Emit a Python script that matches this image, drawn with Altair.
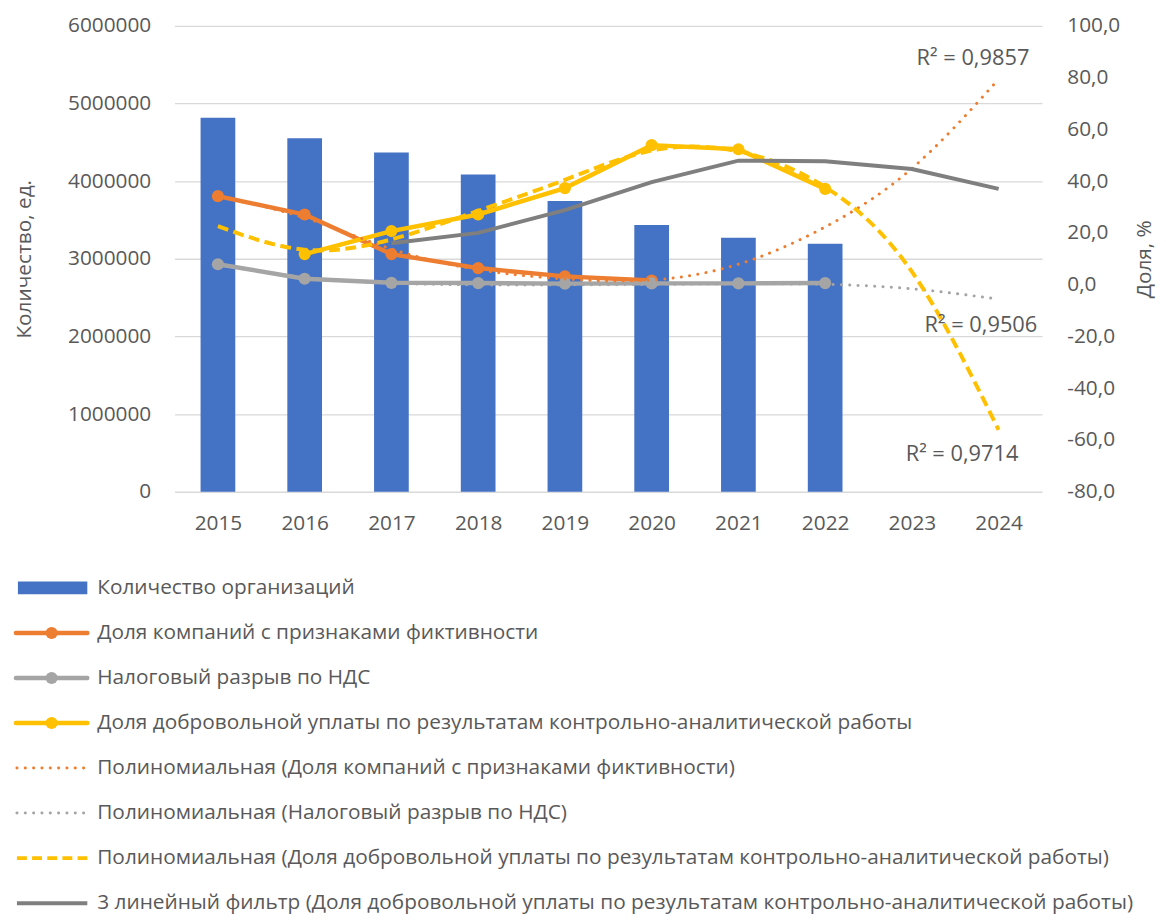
import altair as alt
import pandas as pd

# ---------------- data ----------------
S1 = "Количество организаций"
S2 = "Доля компаний с признаками фиктивности"
S3 = "Налоговый разрыв по НДС"
S4 = "Доля добровольной уплаты по результатам контрольно-аналитической работы"
T2 = "Полиномиальная (Доля компаний с признаками фиктивности)"
T3 = "Полиномиальная (Налоговый разрыв по НДС)"
T4 = "Полиномиальная (Доля добровольной уплаты по результатам контрольно-аналитической работы)"
MA = "3 линейный фильтр (Доля добровольной уплаты по результатам контрольно-аналитической работы)"

years = [2015, 2016, 2017, 2018, 2019, 2020, 2021, 2022, 2023, 2024]

org_years = [2015, 2016, 2017, 2018, 2019, 2020, 2021, 2022]
org_count = [4817000, 4552000, 4370000, 4085000, 3744000, 3434000, 3272000, 3192000]

fict_years = [2015, 2016, 2017, 2018, 2019, 2020]
fict_share = [34.2, 27.1, 11.8, 6.4, 3.2, 1.6]

gap_years = [2015, 2016, 2017, 2018, 2019, 2020, 2021, 2022]
vat_gap = [7.9, 2.3, 0.7, 0.6, 0.4, 0.5, 0.5, 0.6]

vol_years = [2016, 2017, 2018, 2019, 2020, 2021, 2022]
vol_share = [11.8, 20.7, 27.1, 37.3, 53.9, 52.3, 37.0]

ma_years = [2017, 2018, 2019, 2020, 2021, 2022, 2023, 2024]
ma_values = [16.0, 20.0, 28.8, 39.6, 47.9, 47.7, 44.7, 37.0]

trend_fict = [34.0, 25.8, 13.8, 5.8, 2.2, 1.8, 7.9, 22.3, 44.9, 79.4]
trend_gap = [7.6, 2.9, 0.6, -0.1, -0.1, 0.1, 0.3, 0.1, -1.6, -5.6]
trend_vol = [22.6, 13.5, 17.5, 28.5, 40.5, 51.8, 51.5, 37.7, 5.0, -56.1]

r2_texts = ["R² = 0,9857", "R² = 0,9506", "R² = 0,9714"]

left_ticks = [0, 1000000, 2000000, 3000000, 4000000, 5000000, 6000000]
right_ticks = [-80, -60, -40, -20, 0, 20, 40, 60, 80, 100]

legend_labels = [S1, S2, S3, S4, T2, T3, T4, MA]

# ---------------- styles ----------------
FONT = "Open Sans"
TXT = "#595959"
FS = 21
BLUE = "#4472C4"
ORANGE = "#ED7D31"
GRAY = "#A5A5A5"
YELLOW = "#FFC000"
DARK = "#7F7F7F"

# ---------------- tables ----------------
bars_df = pd.DataFrame({"year": org_years, "count": org_count})
main_df = pd.concat([
    pd.DataFrame({"year": fict_years, "value": fict_share, "series": S2}),
    pd.DataFrame({"year": gap_years, "value": vat_gap, "series": S3}),
    pd.DataFrame({"year": vol_years, "value": vol_share, "series": S4}),
], ignore_index=True)
tf_df = pd.DataFrame({"year": years, "value": trend_fict})
tg_df = pd.DataFrame({"year": years, "value": trend_gap})
tv_df = pd.DataFrame({"year": years, "value": trend_vol})
ma_df = pd.DataFrame({"year": ma_years, "value": ma_values})

x_axis = alt.Axis(values=years, format="d", title=None, grid=False, domain=False,
                  ticks=False, tickSize=0, labelPadding=21, labelFontSize=FS,
                  labelColor=TXT, labelFont=FONT)
X = alt.X("year:Q",
          scale=alt.Scale(domain=[2014.5, 2024.5], nice=False, zero=False, padding=0),
          axis=x_axis)

left_axis = alt.Axis(values=left_ticks, format="d", title="Количество, ед.",
                     grid=True, gridColor="#D9D9D9", gridWidth=1.3, domain=False,
                     ticks=False, tickSize=0, labelPadding=24, labelFontSize=FS,
                     labelColor=TXT, labelFont=FONT, titleFontSize=FS,
                     titleFont=FONT, titleColor=TXT, titleFontWeight="normal",
                     titlePadding=33)
right_axis = alt.Axis(orient="right", values=right_ticks,
                      labelExpr="replace(replace(format(datum.value, '.1f'), '.', ','), '\u2212', '-')",
                      title="Доля, %", grid=False, domain=False, ticks=False,
                      tickSize=0, labelPadding=25, labelFontSize=FS,
                      labelColor=TXT, labelFont=FONT, titleFontSize=FS,
                      titleFont=FONT, titleColor=TXT, titleFontWeight="normal",
                      titleAngle=270, titlePadding=35)
YR = alt.Y("value:Q", scale=alt.Scale(domain=[-80, 100], nice=False, zero=False),
           axis=right_axis)

bars = alt.Chart(bars_df).mark_bar(size=35, color=BLUE).encode(
    x=X,
    y=alt.Y("count:Q", scale=alt.Scale(domain=[0, 6000000], nice=False), axis=left_axis),
)

main = alt.Chart(main_df).mark_line(
    strokeWidth=4.5,
    point=alt.OverlayMarkDef(filled=True, size=150, opacity=1),
).encode(
    x=X, y=YR,
    color=alt.Color("series:N", scale=alt.Scale(domain=[S2, S3, S4],
                                                range=[ORANGE, GRAY, YELLOW]),
                    legend=None),
)

dot = [0.1, 8.3]
t_f = alt.Chart(tf_df).mark_line(color=ORANGE, strokeWidth=3, strokeDash=dot,
                                 strokeCap="round", interpolate="natural").encode(x=X, y=YR)
t_g = alt.Chart(tg_df).mark_line(color=GRAY, strokeWidth=3, strokeDash=dot,
                                 strokeCap="round", interpolate="natural").encode(x=X, y=YR)
t_v = alt.Chart(tv_df).mark_line(color=YELLOW, strokeWidth=4, strokeDash=[11, 5.5],
                                 interpolate="natural").encode(x=X, y=YR)
ma = alt.Chart(ma_df).mark_line(color=DARK, strokeWidth=4).encode(x=X, y=YR)

last = lambda df, txt: df.tail(1).assign(txt=txt)
r2a = alt.Chart(last(tf_df, r2_texts[0])).mark_text(
    align="right", baseline="middle", dx=31, dy=-21, fontSize=22, font=FONT, color=TXT
).encode(x=X, y=YR, text="txt:N")
r2b = alt.Chart(last(tg_df, r2_texts[1])).mark_text(
    align="right", baseline="middle", dx=39, dy=26, fontSize=22, font=FONT, color=TXT
).encode(x=X, y=YR, text="txt:N")
r2c = alt.Chart(last(tv_df, r2_texts[2])).mark_text(
    align="right", baseline="middle", dx=20, dy=24, fontSize=22, font=FONT, color=TXT
).encode(x=X, y=YR, text="txt:N")

top = alt.layer(
    bars,
    alt.layer(main, t_f, t_g, t_v, ma, r2a, r2b, r2c),
).resolve_scale(y="independent").properties(width=875, height=470)

# ---------------- legend ----------------
leg_df = pd.DataFrame({"label": legend_labels})
YL = alt.Y("label:N", sort=legend_labels, scale=alt.Scale(type="point", padding=0),
           axis=None)
L = -161  # legend symbols start left of the plot origin


def row(label):
    return alt.Chart(leg_df).transform_filter(
        alt.FieldEqualPredicate(field="label", equal=label))


leg_layers = [
    row(S1).mark_rule(strokeWidth=13, color=BLUE).encode(
        x=alt.value(L + 3), x2=alt.value(L + 73), y=YL),
]
for lab, col in [(S2, ORANGE), (S3, GRAY), (S4, YELLOW)]:
    leg_layers.append(row(lab).mark_rule(strokeWidth=4.5, color=col, strokeCap="round").encode(
        x=alt.value(L + 1), x2=alt.value(L + 73), y=YL))
    leg_layers.append(row(lab).mark_point(filled=True, size=150, opacity=1, color=col).encode(
        x=alt.value(L + 37), y=YL))
leg_layers.append(row(T2).mark_rule(strokeWidth=3, color=ORANGE, strokeDash=dot,
                                    strokeCap="round").encode(
    x=alt.value(L + 2), x2=alt.value(L + 72), y=YL))
leg_layers.append(row(T3).mark_rule(strokeWidth=3, color=GRAY, strokeDash=dot,
                                    strokeCap="round").encode(
    x=alt.value(L + 2), x2=alt.value(L + 72), y=YL))
leg_layers.append(row(T4).mark_rule(strokeWidth=4, color=YELLOW, strokeDash=[10, 5.3]).encode(
    x=alt.value(L + 2), x2=alt.value(L + 73), y=YL))
leg_layers.append(row(MA).mark_rule(strokeWidth=4, color=DARK).encode(
    x=alt.value(L + 2), x2=alt.value(L + 73), y=YL))
leg_layers.append(alt.Chart(leg_df).mark_text(
    align="left", baseline="middle", fontSize=FS, font=FONT, color=TXT
).encode(x=alt.value(L + 83), y=YL, text="label:N"))

legend = alt.layer(*leg_layers).properties(width=800, height=318)

chart = alt.vconcat(top, legend, spacing=44).properties(
    padding={"left": 3, "top": 3, "right": 3, "bottom": 0},
    background="white",
).configure_view(stroke=None)

chart.save("out.html", embed_options={"renderer": "svg", "actions": False})
